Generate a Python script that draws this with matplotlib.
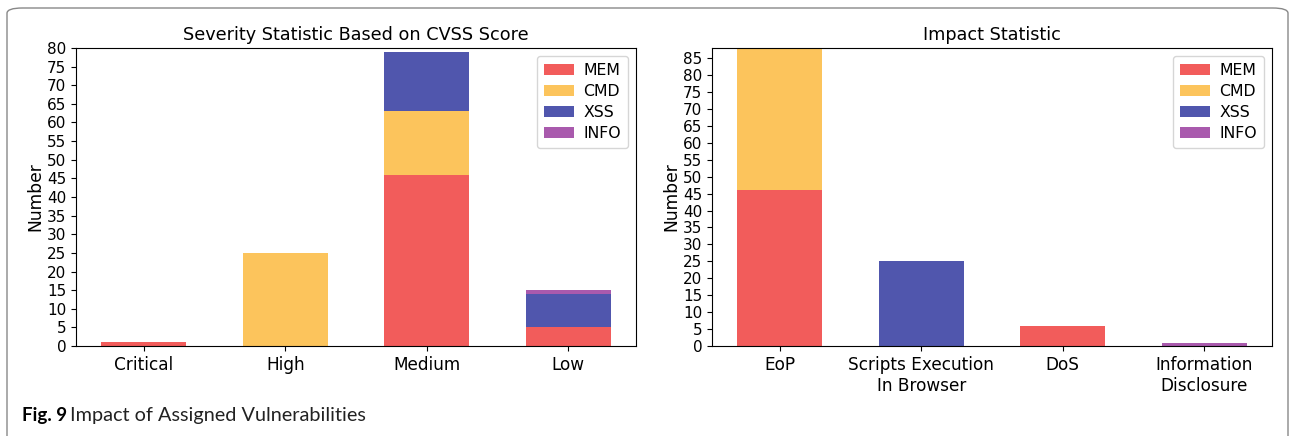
import matplotlib
matplotlib.use("Agg")
import matplotlib.pyplot as plt
import numpy as np
from matplotlib.patches import FancyBboxPatch

plt.rcParams["font.family"] = ["DejaVu Sans"]

# Left chart data
sev_categories = ["Critical", "High", "Medium", "Low"]
sev_mem = [1, 0, 46, 5]
sev_cmd = [0, 25, 17, 0]
sev_xss = [0, 0, 16, 9]
sev_info = [0, 0, 0, 1]

# Right chart data
imp_categories = ["EoP", "Scripts Execution\nIn Browser", "DoS", "Information\nDisclosure"]
imp_mem = [46, 0, 6, 0]
imp_cmd = [42, 0, 0, 0]
imp_xss = [0, 25, 0, 0]
imp_info = [0, 0, 0, 1]

series_names = ["MEM", "CMD", "XSS", "INFO"]
colors = ["#f25c5b", "#fcc45c", "#5056ad", "#a95aad"]

fig = plt.figure(figsize=(12.92, 4.36), dpi=100)

# outer rounded frame
frame = FancyBboxPatch((7 / 1292, -0.2), 1281 / 1292, 1.2 - 8 / 436,
                       boxstyle="round,pad=0,rounding_size=0.012",
                       transform=fig.transFigure, fill=False,
                       edgecolor="#888888", linewidth=1.0)
fig.patches.append(frame)

def draw(ax, cats, data, title, ylim, yticks):
    x = np.arange(len(cats))
    bottom = np.zeros(len(cats))
    for name, vals, c in zip(series_names, data, colors):
        ax.bar(x, vals, 0.6, bottom=bottom, color=c, label=name)
        bottom += np.array(vals)
    ax.set_xticks(x)
    ax.set_xticklabels(cats, fontsize=12.2)
    ax.set_ylim(*ylim)
    ax.set_yticks(yticks)
    ax.tick_params(axis="y", labelsize=11)
    ax.set_ylabel("Number", fontsize=12.3, labelpad=2)
    ax.set_title(title, fontsize=12.7, pad=6)
    ax.legend(loc="upper right", fontsize=11.3, handlelength=1.9,
              handletextpad=0.6, labelspacing=0.38, borderpad=0.45)

ax1 = fig.add_axes([76 / 1292, 1 - 346 / 436, 560 / 1292, 298 / 436])
draw(ax1, sev_categories, [sev_mem, sev_cmd, sev_xss, sev_info],
     "Severity Statistic Based on CVSS Score", (0, 80), np.arange(0, 81, 5))

ax2 = fig.add_axes([712 / 1292, 1 - 346 / 436, 560 / 1292, 298 / 436])
draw(ax2, imp_categories, [imp_mem, imp_cmd, imp_xss, imp_info],
     "Impact Statistic", (0, 88), np.arange(0, 86, 5))

fig.text(22 / 1292, 1 - 421 / 436, "Fig. 9", fontsize=13.5, fontweight="bold",
         family="Lato", va="baseline")
fig.text(70 / 1292, 1 - 421 / 436, "Impact of Assigned Vulnerabilities", fontsize=14.3,
         family="Lato", va="baseline", color="#222222")

fig.savefig("out.png", dpi=100)
